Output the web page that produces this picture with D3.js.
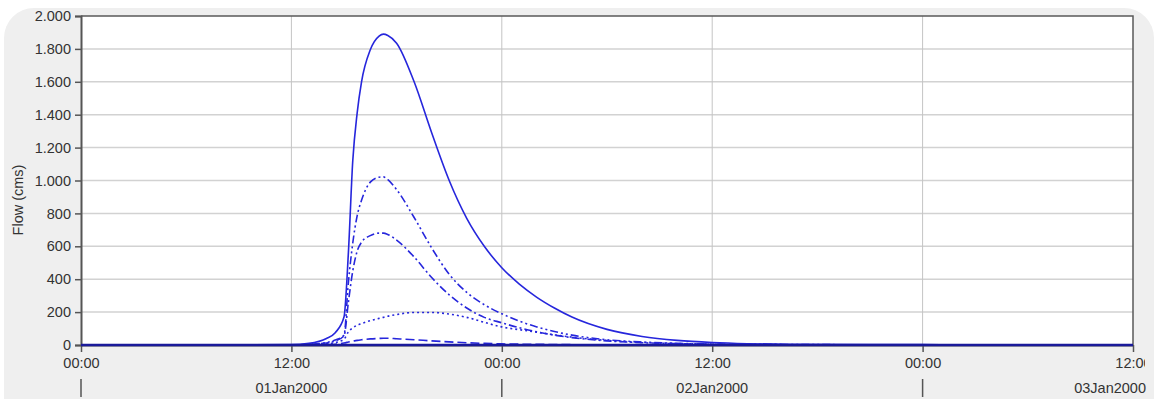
<!DOCTYPE html>
<html>
<head>
<meta charset="utf-8">
<script src="https://cdn.jsdelivr.net/npm/d3@7"></script>
<style>
  html, body { margin: 0; padding: 0; background: #ffffff; }
  svg { display: block; font-family: Arial, "Liberation Sans", sans-serif; }
</style>
</head>
<body>
<svg id="chart" width="1158" height="399"></svg>
<script>
// Hours after 01Jan2000 00:00
const hours = [0, 12, 13, 14, 14.5, 15, 15.25, 15.5, 15.75, 16, 16.5, 17, 17.25, 17.5, 18,
  19, 20, 21, 22, 23, 24, 25, 26, 27, 28, 30, 32, 34, 36, 38, 40, 48, 57.5, 60];

// Flow series (cms), one per line style
const flowSolid = [0, 2, 10, 40, 75, 170, 560, 1120, 1410, 1600, 1795, 1878, 1890, 1882, 1835,
  1600, 1290, 1000, 770, 600, 470, 370, 290, 225, 170, 95, 52, 28, 15, 8, 5, 2, 1, 1];
const flowDashDotDot = [0, 1, 4, 15, 30, 60, 380, 620, 785, 880, 990, 1020, 1022, 1005, 945,
  775, 590, 430, 320, 245, 190, 145, 110, 82, 60, 32, 18, 10, 6, 4, 3, 1, 0, 0];
const flowDashDot = [0, 1, 4, 12, 25, 55, 260, 450, 570, 625, 665, 680, 680, 672, 638,
  535, 410, 305, 225, 168, 135, 105, 80, 60, 45, 25, 14, 8, 5, 3, 2, 1, 0, 0];
const flowDotted = [0, 1, 3, 8, 15, 35, 80, 105, 120, 130, 148, 162, 168, 175, 185,
  198, 198, 188, 168, 138, 110, 93, 78, 62, 48, 28, 16, 9, 5, 3, 2, 1, 0, 0];
const flowDashed = [0, 0, 1, 3, 5, 12, 18, 24, 28, 32, 37, 40, 41, 41, 38,
  32, 25, 19, 14, 10, 7, 5, 4, 3, 2, 1, 0, 0, 0, 0, 0, 0, 0, 0];

const seriesList = [
  { name: 'dashed', values: flowDashed, dash: '9,4' },
  { name: 'dotted', values: flowDotted, dash: '2,3' },
  { name: 'dashdot', values: flowDashDot, dash: '8,3,2,3' },
  { name: 'dashdotdot', values: flowDashDotDot, dash: '8,3,2,3,2,3' },
  { name: 'solid', values: flowSolid, dash: null }
];

const yTicks = [0, 200, 400, 600, 800, 1000, 1200, 1400, 1600, 1800, 2000];
const dayLabels = ['01Jan2000', '02Jan2000', '03Jan2000'];

const t0 = Date.UTC(2000, 0, 1, 0, 0);
const toDate = (h) => new Date(t0 + h * 3600e3);

const plotLeft = 81, plotRight = 1133, plotTop = 16, plotBottom = 345;

const svg = d3.select('#chart');

// Panel background
svg.append('rect')
  .attr('x', 4).attr('y', 8).attr('width', 1150).attr('height', 420)
  .attr('rx', 30).attr('fill', '#efefef');

// Plot area
svg.append('rect')
  .attr('x', plotLeft).attr('y', plotTop)
  .attr('width', plotRight - plotLeft).attr('height', plotBottom - plotTop)
  .attr('fill', '#ffffff');

const x = d3.scaleUtc().domain([toDate(0), toDate(60)]).range([plotLeft, plotRight]);
const y = d3.scaleLinear().domain([0, 2000]).range([plotBottom, plotTop]);

const fmt = d3.formatLocale({ decimal: ',', thousands: '.', grouping: [3], currency: ['', ''] }).format(',d');

// Grid lines
svg.append('g').selectAll('line').data(yTicks.slice(1, -1)).join('line')
  .attr('x1', plotLeft).attr('x2', plotRight)
  .attr('y1', (d) => y(d)).attr('y2', (d) => y(d))
  .attr('stroke', '#d2d2d2').attr('stroke-width', 1.5);

const xTickDates = d3.range(12, 60, 12).map(toDate);
svg.append('g').selectAll('line').data(xTickDates).join('line')
  .attr('x1', (d) => x(d)).attr('x2', (d) => x(d))
  .attr('y1', plotTop).attr('y2', plotBottom)
  .attr('stroke', '#c4c4c4').attr('stroke-width', 1);

// Series
const line = d3.line()
  .x((d, i) => x(toDate(hours[i])))
  .y((d) => y(d))
  .curve(d3.curveMonotoneX);

svg.append('g').selectAll('path').data(seriesList).join('path')
  .attr('d', (s) => line(s.values))
  .attr('fill', 'none')
  .attr('stroke', '#2626dc')
  .attr('stroke-width', 1.6)
  .attr('stroke-dasharray', (s) => s.dash);

// Frame: top and right border
svg.append('path')
  .attr('d', `M${plotLeft},${plotTop}H${plotRight}V${plotBottom}`)
  .attr('fill', 'none').attr('stroke', '#5a5a5a').attr('stroke-width', 1.5);

// Y axis
const yAxis = svg.append('g')
  .attr('transform', `translate(${plotLeft},0)`)
  .call(d3.axisLeft(y).tickValues(yTicks).tickFormat(fmt).tickSize(6).tickPadding(4));
yAxis.select('.domain').attr('stroke', '#555').attr('stroke-width', 2);
yAxis.selectAll('.tick line').attr('stroke', '#555').attr('stroke-width', 1.5);
yAxis.selectAll('text').attr('font-size', 14.5).attr('fill', '#333')
  .attr('font-family', 'Arial, "Liberation Sans", sans-serif');

// Y title
svg.append('text')
  .attr('transform', 'translate(23,200) rotate(-90)')
  .attr('text-anchor', 'middle')
  .attr('font-size', 14.5).attr('fill', '#333')
  .text('Flow (cms)');

// X axis
svg.append('clipPath').attr('id', 'xclip')
  .append('rect').attr('x', 0).attr('y', 0).attr('width', 1145).attr('height', 399);

const xAxis = svg.append('g')
  .attr('transform', `translate(0,${plotBottom})`)
  .attr('clip-path', 'url(#xclip)')
  .call(d3.axisBottom(x).ticks(d3.utcHour.every(12)).tickFormat(d3.utcFormat('%H:%M'))
    .tickSize(7).tickPadding(6).tickSizeOuter(0));
xAxis.select('.domain').attr('stroke', '#555').attr('stroke-width', 2);
xAxis.selectAll('.tick line').attr('stroke', '#555').attr('stroke-width', 1.5);
xAxis.selectAll('text').attr('font-size', 14.5).attr('fill', '#333')
  .attr('font-family', 'Arial, "Liberation Sans", sans-serif');

// Baseline where all series sit at zero
svg.append('line')
  .attr('x1', plotLeft).attr('x2', plotRight).attr('y1', plotBottom).attr('y2', plotBottom)
  .attr('stroke', '#1a1a9a').attr('stroke-width', 2.5);

// Day band: separators and labels
const dayStarts = [0, 24, 48].map(toDate);
svg.append('g').selectAll('line').data(dayStarts).join('line')
  .attr('x1', (d) => x(d)).attr('x2', (d) => x(d))
  .attr('y1', 379).attr('y2', 397)
  .attr('stroke', '#555').attr('stroke-width', 1.5);

svg.append('g').selectAll('text').data(dayLabels).join('text')
  .attr('x', (d, i) => (i < 2 ? x(toDate(i * 24 + 12)) : 1146))
  .attr('y', 393)
  .attr('text-anchor', (d, i) => (i < 2 ? 'middle' : 'end'))
  .attr('font-size', 14.5).attr('fill', '#333')
  .text((d) => d);
</script>
</body>
</html>
